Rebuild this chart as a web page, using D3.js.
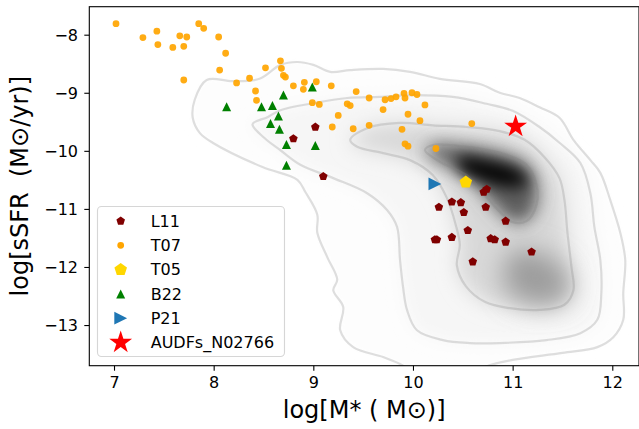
<!DOCTYPE html>
<html>
<head>
<meta charset="utf-8">
<script src="https://cdn.jsdelivr.net/npm/d3@7"></script>
<style>
  body { margin: 0; background: #fff; }
  svg { display: block; font-family: "DejaVu Sans", sans-serif; }
</style>
</head>
<body>
<div id="chart"></div>
<script>
// points as [log M*, log sSFR]
const l11 = [[9.02, -9.59], [8.80, -9.79], [9.10, -10.44], [10.71, -10.71], [10.74, -10.66],
  [10.26, -10.97], [10.39, -10.88], [10.48, -10.89], [10.51, -11.06], [10.73, -10.97],
  [10.93, -11.21], [10.55, -11.37], [10.22, -11.53], [10.24, -11.53], [10.39, -11.49],
  [10.78, -11.51], [10.82, -11.53], [10.93, -11.57], [11.19, -11.74], [10.60, -11.91]];
const t07 = [[7.02, -7.81], [7.29, -8.05], [7.43, -7.94], [7.44, -8.17], [7.59, -8.22],
  [7.66, -8.02], [7.73, -8.04], [7.70, -8.20], [7.70, -8.78], [7.85, -7.81], [7.90, -7.89],
  [8.05, -8.04], [8.12, -8.32], [8.06, -8.61], [8.23, -8.83], [8.36, -8.75], [8.42, -8.97],
  [8.43, -9.13], [8.52, -8.57], [8.67, -8.45], [8.68, -8.58], [8.70, -8.70], [8.72, -8.73],
  [8.80, -8.88], [8.90, -8.94], [8.91, -8.82], [9.03, -8.81], [9.18, -8.88], [8.99, -9.17],
  [9.06, -9.20], [9.25, -9.39], [9.19, -9.59], [9.40, -9.62], [9.43, -8.98], [9.34, -9.19],
  [9.37, -9.22], [9.56, -9.09], [9.56, -9.56], [9.70, -9.29], [9.72, -9.12], [9.78, -9.10],
  [9.83, -9.07], [9.91, -9.01], [9.92, -9.09], [9.99, -9.00], [10.04, -9.03], [10.12, -9.21],
  [9.95, -9.37], [10.07, -9.48], [9.89, -9.63], [9.92, -9.88], [9.95, -9.92], [10.23, -9.96],
  [10.59, -9.53]];
const t05 = [[10.53, -10.54]];
const b22 = [[8.13, -9.24], [8.48, -9.24], [8.59, -9.22], [8.70, -9.04], [8.99, -8.90],
  [8.65, -9.40], [8.57, -9.53], [8.66, -9.63], [8.73, -9.89], [9.02, -9.91], [8.73, -10.25]];
const p21 = [[10.22, -10.57]];
const audfs = [[11.03, -9.58]];

// density contours of the background sample, outermost first
const contour1 = [[7.81, -9.12], [7.93, -8.78], [8.19, -8.80], [8.46, -8.76], [8.67, -8.52],
  [8.84, -8.47], [9.00, -8.52], [9.17, -8.64], [9.37, -8.61], [9.70, -8.59], [9.97, -8.64],
  [10.27, -8.76], [10.67, -8.85], [10.87, -9.00], [11.07, -9.09], [11.27, -9.25], [11.47, -9.43],
  [11.61, -9.81], [11.78, -10.16], [11.88, -10.38], [11.98, -10.85], [12.08, -11.41],
  [12.13, -11.88], [12.11, -12.45], [12.11, -12.91], [12.01, -13.21], [11.85, -13.38],
  [11.50, -13.48], [11.00, -13.60], [10.74, -13.71], [10.57, -13.86], [10.07, -13.86],
  [9.87, -13.67], [9.70, -13.55], [9.40, -13.38], [9.27, -13.09], [9.30, -12.69], [9.20, -12.40],
  [9.24, -12.22], [9.14, -11.83], [9.04, -11.41], [9.04, -11.10], [8.92, -10.71], [8.84, -10.50],
  [8.49, -10.28], [7.99, -9.86], [7.86, -9.69], [7.79, -9.43]];
const contour2 = [[8.39, -9.54], [8.54, -9.42], [8.67, -9.30], [9.00, -9.18], [9.34, -9.09],
  [9.67, -9.07], [10.00, -9.04], [10.40, -9.07], [10.74, -9.19], [11.00, -9.31], [11.27, -9.59],
  [11.47, -9.86], [11.68, -10.21], [11.78, -10.73], [11.82, -11.31], [11.88, -11.88],
  [11.89, -12.45], [11.85, -12.91], [11.68, -13.14], [11.34, -13.26], [10.87, -13.31],
  [10.57, -13.31], [10.30, -13.26], [10.04, -13.09], [9.94, -12.74], [9.90, -12.34],
  [9.87, -11.88], [9.84, -11.31], [9.74, -11.02], [9.54, -10.73], [9.20, -10.47], [8.87, -10.24],
  [8.67, -9.99], [8.51, -9.78]];
const contour3 = [[9.37, -9.81], [9.54, -9.61], [9.87, -9.52], [10.20, -9.56], [10.54, -9.59],
  [10.87, -9.66], [11.12, -9.81], [11.32, -10.11], [11.47, -10.47], [11.52, -10.85],
  [11.55, -11.41], [11.59, -12.00], [11.61, -12.40], [11.52, -12.65], [11.27, -12.74],
  [10.97, -12.71], [10.72, -12.60], [10.53, -12.33], [10.44, -11.97], [10.47, -11.62],
  [10.43, -11.28], [10.34, -10.81], [10.20, -10.42], [9.97, -10.16], [9.70, -10.04], [9.44, -9.93]];
const contour4 = [[10.12, -9.99], [10.20, -9.90], [10.54, -9.93], [10.67, -9.96], [10.94, -10.07],
  [11.14, -10.24], [11.24, -10.59], [11.24, -10.93], [11.14, -11.21], [11.00, -11.23],
  [10.87, -11.05], [10.72, -10.76], [10.54, -10.42], [10.27, -10.19]];
// darker patches of the shading that have no line of their own
const lobe = [[11.02, -11.71], [11.32, -11.79], [11.52, -12.05], [11.56, -12.48], [11.37, -12.65],
  [11.07, -12.57], [10.92, -12.31], [10.92, -11.97]];
const core = [[10.45, -10.12], [10.77, -10.18], [11.05, -10.33], [11.17, -10.55], [11.00, -10.62],
  [10.72, -10.52], [10.47, -10.32]];

const xTicks = [7, 8, 9, 10, 11, 12];
const yTicks = [-8, -9, -10, -11, -12, -13];
const seriesNames = ['L11', 'T07', 'T05', 'B22', 'P21', 'AUDFs_N02766'];

const width = 639, height = 429;
const plot = { left: 89.3, right: 639, top: 6.7, bottom: 365.7 };

const x = d3.scaleLinear().domain([6.752, 12.268]).range([plot.left, plot.right]);
const y = d3.scaleLinear().domain([-7.518, -13.70]).range([plot.top, plot.bottom]);

// marker shapes, centred on 0,0
function polygon(n, r) {
  const pts = d3.range(n).map(i => {
    const a = i * 2 * Math.PI / n;
    return [r * Math.sin(a), -r * Math.cos(a)];
  });
  return 'M' + pts.join('L') + 'Z';
}
function star(r) {
  const pts = d3.range(10).map(i => {
    const a = i * Math.PI / 5;
    const rr = i % 2 ? r * 0.382 : r;
    return [rr * Math.sin(a), -rr * Math.cos(a)];
  });
  return 'M' + pts.join('L') + 'Z';
}
const triUp = s => `M0,${-s}L${s},${s}L${-s},${s}Z`;
const triRight = s => `M${s},0L${-s},${-s}L${-s},${s}Z`;
const dot = r => `M${r},0A${r},${r} 0 1,1 ${-r},0A${r},${r} 0 1,1 ${r},0Z`;

const series = [
  { data: l11, path: polygon(5, 4.5), color: '#800000' },
  { data: t07, path: dot(3.4), color: '#ffa500', opacity: 0.92 },
  { data: t05, path: polygon(5, 6.6), color: '#ffd700' },
  { data: b22, path: triUp(4.5), color: '#008000' },
  { data: p21, path: triRight(6.4), color: '#1f77b4' },
  { data: audfs, path: star(12), color: '#ff0000' },
];

const svg = d3.select('#chart').append('svg')
  .attr('width', width).attr('height', height);
const defs = svg.append('defs');

defs.append('clipPath').attr('id', 'plot-clip')
  .append('rect')
  .attr('x', plot.left).attr('y', plot.top)
  .attr('width', plot.right - plot.left).attr('height', plot.bottom - plot.top);

const shape = d3.line()
  .x(d => x(d[0])).y(d => y(d[1]))
  .curve(d3.curveCatmullRomClosed.alpha(0.5));

// grey density shading: stacked, blurred regions
const shading = [
  { poly: contour1, fill: '#fdfdfd', blur: 5 },
  { poly: contour2, fill: '#f6f6f6', blur: 8 },
  { poly: contour3, fill: '#d8d8d8', blur: 10 },
  { poly: lobe, fill: '#9c9c9c', blur: 13 },
  { poly: contour4, fill: '#5c5c5c', blur: 9 },
  { poly: core, fill: '#000000', blur: 8 },
];
const gShade = svg.append('g').attr('clip-path', 'url(#plot-clip)');
shading.forEach((s, i) => {
  defs.append('filter').attr('id', 'blur' + i)
    .attr('filterUnits', 'userSpaceOnUse')
    .attr('x', 0).attr('y', 0).attr('width', width).attr('height', height)
    .append('feGaussianBlur').attr('stdDeviation', s.blur);
  gShade.append('path')
    .attr('d', shape(s.poly))
    .attr('fill', s.fill)
    .attr('filter', `url(#blur${i})`);
});

// contour lines
svg.append('g').attr('clip-path', 'url(#plot-clip)')
  .selectAll('path')
  .data([contour1, contour2, contour3, contour4])
  .join('path')
  .attr('d', shape)
  .attr('fill', 'none')
  .attr('stroke', '#808080')
  .attr('stroke-opacity', 0.25)
  .attr('stroke-width', 2.2);

// scatter points
series.forEach(s => {
  svg.append('g')
    .selectAll('path')
    .data(s.data)
    .join('path')
    .attr('transform', d => `translate(${x(d[0])},${y(d[1])})`)
    .attr('d', s.path)
    .attr('fill', s.color)
    .attr('fill-opacity', s.opacity || 1);
});

// axes
const xAxis = svg.append('g')
  .attr('transform', `translate(0,${plot.bottom})`)
  .call(d3.axisBottom(x).tickValues(xTicks).tickSize(5).tickPadding(6.4).tickFormat(d3.format('d')));
const yAxis = svg.append('g')
  .attr('transform', `translate(${plot.left},0)`)
  .call(d3.axisLeft(y).tickValues(yTicks).tickSize(5).tickPadding(6.3).tickFormat(d3.format('d')));
yAxis.selectAll('text').attr('dy', '0.36em');
[xAxis, yAxis].forEach(a => {
  a.select('.domain').remove();
  a.selectAll('line').attr('stroke', '#000').attr('stroke-width', 1.1);
  a.selectAll('text').attr('fill', '#000')
    .style('font-family', '"DejaVu Sans", sans-serif').style('font-size', '16px');
});

// frame
svg.append('rect')
  .attr('x', plot.left).attr('y', plot.top)
  .attr('width', plot.right - plot.left).attr('height', plot.bottom - plot.top)
  .attr('fill', 'none').attr('stroke', '#000').attr('stroke-width', 1.1);

// axis titles
svg.append('text')
  .attr('x', (plot.left + plot.right) / 2).attr('y', 418.3)
  .attr('text-anchor', 'middle').attr('font-size', 24)
  .text('log[M* ( M\u2299)]');
svg.append('text')
  .attr('transform', `translate(28,${(plot.top + plot.bottom) / 2}) rotate(-90)`)
  .attr('text-anchor', 'middle').attr('font-size', 24)
  .text('log[sSFR  (M\u2299/yr)]')
  .style('white-space', 'pre');

// legend
const legend = svg.append('g');
legend.append('rect')
  .attr('x', 97.5).attr('y', 206.5).attr('width', 187).attr('height', 150).attr('rx', 4)
  .attr('fill', '#fff').attr('fill-opacity', 0.8)
  .attr('stroke', '#cccccc').attr('stroke-opacity', 0.8).attr('stroke-width', 1.1);
const rows = legend.selectAll('g.row')
  .data(seriesNames)
  .join('g').attr('class', 'row')
  .attr('transform', (d, i) => `translate(0,${221 + i * 24.3})`);
rows.append('path')
  .attr('transform', 'translate(120.7,0)')
  .attr('d', (d, i) => series[i].path)
  .attr('fill', (d, i) => series[i].color);
rows.append('text')
  .attr('x', 150.7).attr('dy', '0.36em')
  .attr('font-size', 16)
  .text(d => d);
</script>
</body>
</html>
